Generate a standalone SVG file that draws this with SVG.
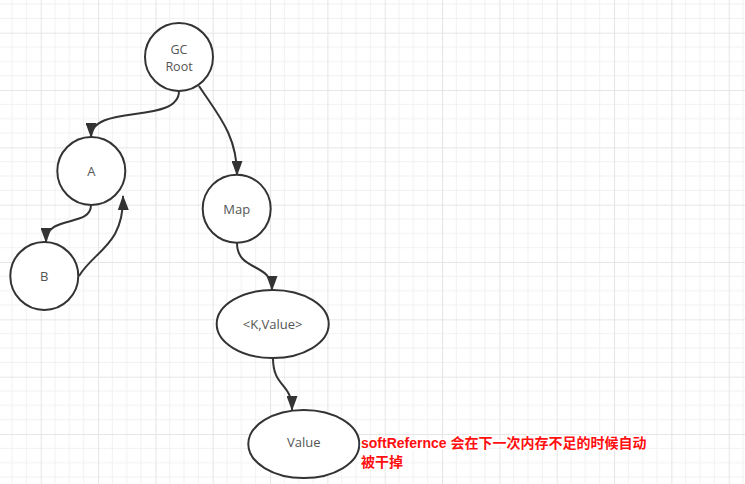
<svg xmlns="http://www.w3.org/2000/svg" width="745" height="484" viewBox="0 0 745 484">
  <defs>
    <pattern id="grid" patternUnits="userSpaceOnUse" x="40.7" y="32.7" width="57.33" height="57.33">
      <g stroke="#f1f1f1" stroke-width="1">
        <line x1="14.33" y1="0" x2="14.33" y2="57.33"/>
        <line x1="28.67" y1="0" x2="28.67" y2="57.33"/>
        <line x1="43" y1="0" x2="43" y2="57.33"/>
        <line x1="0" y1="14.33" x2="57.33" y2="14.33"/>
        <line x1="0" y1="28.67" x2="57.33" y2="28.67"/>
        <line x1="0" y1="43" x2="57.33" y2="43"/>
      </g>
      <g stroke="#e6e6e6" stroke-width="1.2">
        <line x1="0.5" y1="0" x2="0.5" y2="57.33"/>
        <line x1="0" y1="0.5" x2="57.33" y2="0.5"/>
      </g>
    </pattern>
    <marker id="arrow" markerUnits="userSpaceOnUse" viewBox="0 0 15 11" markerWidth="15" markerHeight="11" refX="14" refY="5.5" orient="auto">
      <path d="M0,0 L15,5.5 L0,11 z" fill="#333"/>
    </marker>
  </defs>
  <style>
    .node { fill: #ffffff; stroke: #333333; stroke-width: 2; }
    .label { font-family: "Open Sans", "Noto Sans", "Liberation Sans", sans-serif; font-size: 13px; fill: #555555; text-anchor: middle; }
    .small { font-size: 12.5px; }
    .edge { fill: none; stroke: #333333; stroke-width: 2; marker-end: url(#arrow); }
    .note { font-family: "Liberation Sans", "Noto Sans CJK SC", sans-serif; font-size: 14px; font-weight: bold; fill: #ff0f0f; stroke: #ffffff; stroke-width: 3; paint-order: stroke; stroke-linejoin: round; }
  </style>
  <rect x="0" y="0" width="745" height="484" fill="#ffffff"/>
  <rect x="0" y="0" width="745" height="484" fill="url(#grid)"/>

  <g id="connectors">
    <path class="edge" d="M179,91 C179,125 91,103 91,137"/>
    <path class="edge" d="M199,86 C218,115 237,135 237,175"/>
    <path class="edge" d="M91,205 C91,228 46,214 46,242"/>
    <path class="edge" d="M79,276 C95,250 124,245 123,196"/>
    <path class="edge" d="M237,243 C237,272 272,262 272,290"/>
    <path class="edge" d="M273,358 C273,388 292,382 292,410"/>
  </g>

  <g id="gcroot">
    <circle class="node" cx="179" cy="57" r="34"/>
    <text class="label small" x="179" y="54">GC</text>
    <text class="label small" x="179" y="71">Root</text>
  </g>
  <g id="a">
    <circle class="node" cx="91.3" cy="171" r="34"/>
    <text class="label" x="91.3" y="176">A</text>
  </g>
  <g id="b">
    <circle class="node" cx="44.3" cy="276" r="34"/>
    <text class="label" x="44.3" y="281">B</text>
  </g>
  <g id="map">
    <circle class="node" cx="236.7" cy="208.7" r="34"/>
    <text class="label" x="236.7" y="214">Map</text>
  </g>
  <g id="kvalue">
    <ellipse class="node" cx="272.7" cy="324" rx="56" ry="34"/>
    <text class="label" x="272.7" y="329">&lt;K,Value&gt;</text>
  </g>
  <g id="value">
    <ellipse class="node" cx="303.8" cy="444" rx="55.5" ry="34"/>
    <text class="label" x="303.8" y="447">Value</text>
  </g>

  <g id="note">
    <text class="note" x="361" y="448">softRefernce 会在下一次内存不足的时候自动</text>
    <text class="note" x="361" y="467">被干掉</text>
  </g>
</svg>
